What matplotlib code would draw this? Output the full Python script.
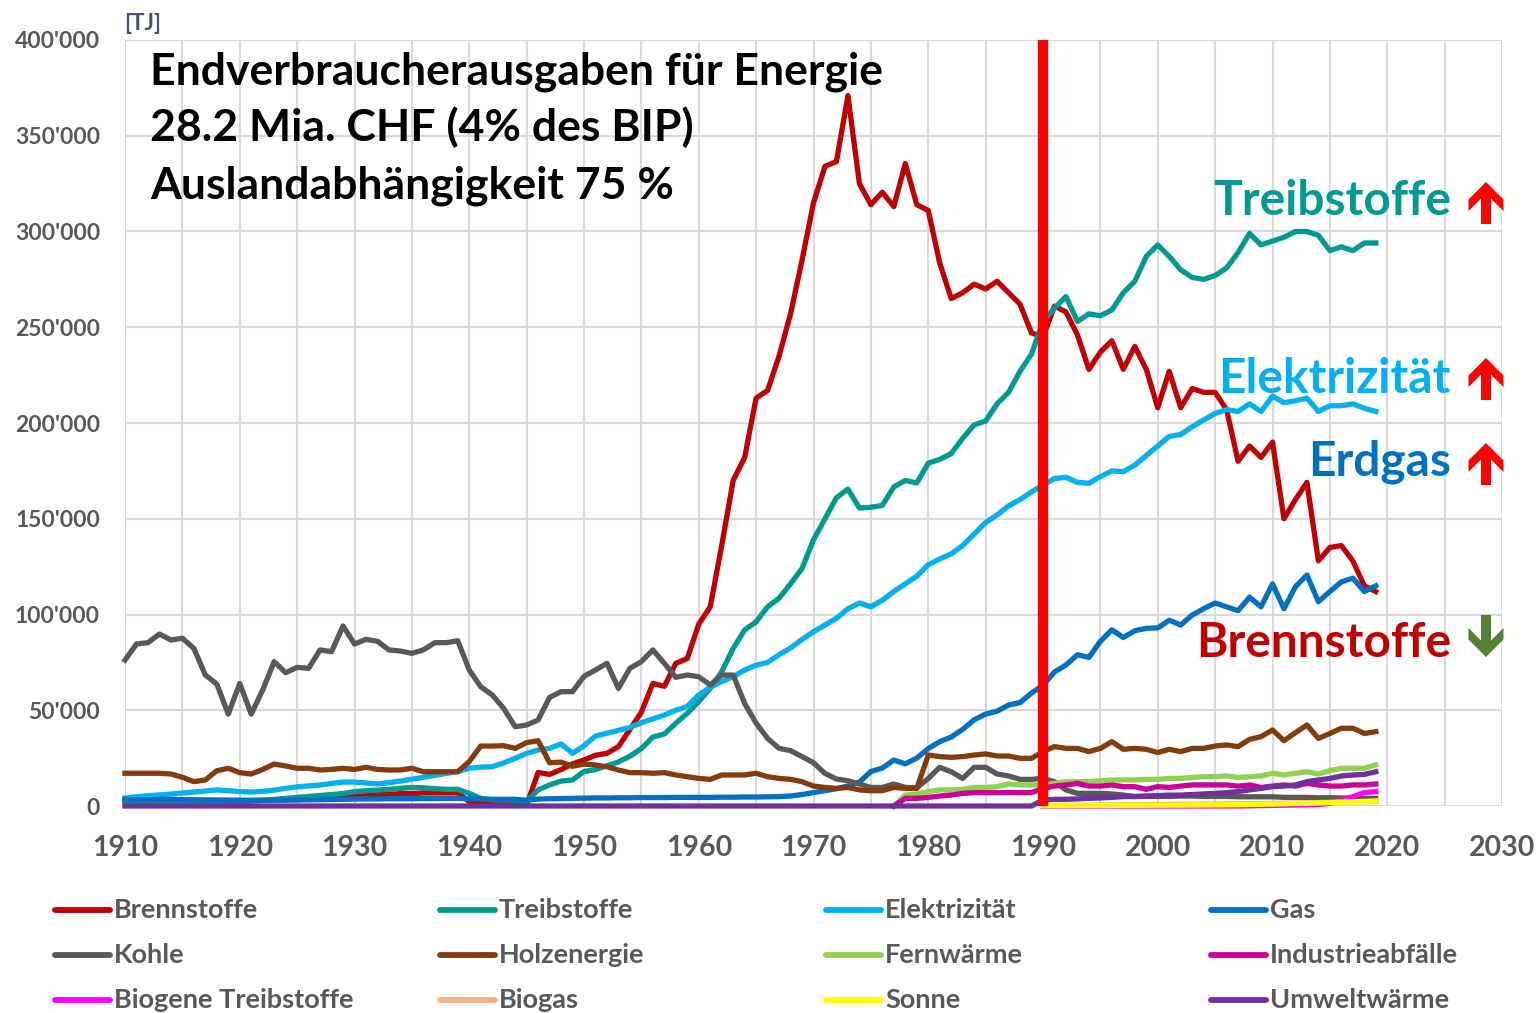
import numpy as np
import matplotlib
matplotlib.use("Agg")
import matplotlib.pyplot as plt
from matplotlib.lines import Line2D
from matplotlib.patches import Polygon
from matplotlib.ticker import FuncFormatter, MultipleLocator

plt.rcParams['font.family'] = ['Lato', 'DejaVu Sans']
plt.rcParams['font.weight'] = 'bold'

W, H = 1537, 1013

# ------------------------------- data [TJ] -------------------------------
years = np.arange(1910, 2020)

brennstoffe = [3000, 3000, 3000, 3000, 3000, 3000, 3000, 3000, 3000, 3000,
               3000, 3000, 3000, 3200, 3400, 3600, 3800, 4000, 4200, 4500,
               5000, 5500, 6000, 6000, 6500, 6500, 6800, 6800, 6800, 6800,
               2300, 2000, 2000, 2000, 1500, 500, 17500, 16500, 19000, 22000,
               24000, 26500, 27500, 31000, 40000, 49000, 64000, 62500, 74500, 77000,
               95000, 104000, 136000, 170000, 182000, 213000, 217000, 235000, 257000, 285000,
               315000, 334000, 336500, 371000, 325000, 314000, 320500, 313000, 335500, 314000,
               311000, 283500, 265000, 268000, 272500, 270000, 274000, 268000, 262000, 247000,
               245000, 261000, 258000, 246000, 228000, 237000, 243000, 228000, 240000, 228000,
               208000, 227000, 208000, 218000, 216000, 216000, 207000, 180000, 188000, 182000,
               190000, 150000, 160000, 169000, 128000, 135000, 136000, 128000, 115000, 112000]

treibstoffe = [1500, 1500, 1500, 1500, 1500, 1500, 1500, 1500, 1500, 1500,
               2000, 2500, 3000, 3500, 4000, 4500, 5000, 5500, 6000, 6500,
               7500, 8000, 8300, 8700, 9200, 9700, 9500, 9000, 8700, 8700,
               6600, 4000, 3200, 3100, 3000, 2500, 8400, 11000, 13000, 13600,
               18000, 19000, 21000, 23000, 26000, 30000, 36000, 37600, 43200, 48400,
               54500, 61500, 70100, 82300, 91900, 96200, 104000, 108500, 116000, 124000,
               139000, 150000, 161000, 165500, 155600, 156000, 157000, 166600, 170000, 168700,
               179000, 181000, 184000, 192000, 199000, 201000, 210000, 216000, 227000, 236000,
               253000, 260000, 266000, 253000, 257000, 256000, 259000, 268000, 274000, 287000,
               293000, 287000, 280000, 276000, 275000, 277000, 281000, 289000, 299000, 293000,
               295000, 297000, 300000, 300000, 298000, 290000, 292000, 290000, 294000, 294000]

elektrizitaet = [4200, 4800, 5400, 5800, 6200, 6800, 7300, 7800, 8400, 8000,
                 7500, 7300, 7600, 8300, 9200, 10000, 10500, 11000, 11800, 12500,
                 12500, 12000, 11500, 12200, 13000, 14000, 15000, 16000, 17000, 18000,
                 19700, 20300, 20500, 22500, 24900, 27500, 29200, 30100, 32400, 27500,
                 31500, 36500, 38000, 39500, 41000, 43500, 45500, 47500, 50000, 52000,
                 58000, 62000, 65000, 67500, 71000, 73500, 75000, 79000, 82500, 87000,
                 91000, 94500, 98000, 103000, 106000, 104000, 107500, 112000, 116000, 120000,
                 126000, 129000, 131600, 136000, 142000, 148000, 152000, 156700, 160000, 164000,
                 167600, 171000, 171600, 169000, 168500, 172000, 175000, 174600, 178000, 183000,
                 188000, 193000, 194000, 198000, 201600, 205000, 207000, 206000, 210000, 206000,
                 214000, 210600, 211600, 213000, 206000, 209000, 209000, 210000, 207700, 206000]

gas = [3200, 3300, 3300, 3400, 3400, 3300, 3200, 3100, 3000, 2900,
       2800, 2800, 2900, 3000, 3000, 3100, 3200, 3300, 3400, 3500,
       3600, 3700, 3700, 3800, 3800, 3800, 3900, 3900, 4000, 4000,
       3800, 3600, 3500, 3500, 3500, 3000, 3600, 3800, 3900, 4000,
       4100, 4200, 4200, 4300, 4300, 4400, 4400, 4400, 4500, 4500,
       4500, 4500, 4600, 4600, 4700, 4700, 4800, 4900, 5200, 6000,
       7000, 8000, 9000, 10500, 12500, 18000, 19800, 24000, 22000, 25000,
       30000, 33600, 36000, 40000, 45000, 48000, 49500, 52700, 54000, 59000,
       63000, 70000, 73600, 79000, 77600, 86000, 92000, 88000, 91500, 92800,
       93000, 97000, 94500, 99700, 103000, 106000, 104000, 102000, 109000, 104000,
       116000, 103000, 114500, 120600, 106700, 112000, 117000, 119000, 112000, 115000]

kohle = [76200, 84600, 85300, 89800, 86700, 87600, 82300, 68400, 63700, 48000,
         64000, 48000, 60600, 75400, 69600, 72400, 71900, 81500, 80600, 94000,
         84600, 87000, 86000, 81500, 80900, 79700, 81500, 85300, 85300, 86300,
         71000, 62300, 58000, 51000, 41400, 42300, 44900, 56700, 59700, 59700,
         67700, 71000, 74500, 61400, 71900, 75400, 81500, 74500, 67200, 68400,
         67500, 63200, 68400, 68400, 53600, 43200, 35300, 30100, 28900, 25800,
         22600, 17000, 14100, 13200, 11500, 9700, 9700, 11500, 9700, 9500,
         14400, 20200, 17900, 14400, 20200, 20200, 16700, 15700, 13900, 13900,
         14400, 12700, 8400, 6600, 6600, 6600, 6300, 5700, 5000, 5000,
         5000, 5000, 5200, 5200, 5000, 5000, 5000, 4800, 4800, 4800,
         4800, 4500, 4500, 4500, 4300, 4300, 4200, 4200, 4000, 4000]

holzenergie = [17100, 17100, 17100, 17100, 16700, 15000, 12700, 13600, 18400, 19700,
               17400, 16700, 19100, 21900, 20900, 19700, 19700, 18800, 19100, 19700,
               19100, 20200, 19100, 18800, 18800, 19700, 17900, 17900, 17900, 17900,
               23200, 31300, 31300, 31500, 30100, 33100, 34100, 22600, 22900, 20700,
               21900, 21400, 20500, 18800, 17400, 17400, 17100, 17400, 16200, 15300,
               14400, 13900, 16200, 16200, 16200, 17100, 15300, 14400, 13900, 12700,
               10400, 9700, 9200, 9700, 8400, 8000, 8000, 9700, 9200, 9200,
               26600, 25800, 25400, 25800, 26600, 27200, 26100, 26100, 24900, 24900,
               28400, 31000, 30100, 30100, 28400, 30100, 33600, 29600, 30100, 29600,
               27900, 29600, 28400, 30100, 30100, 31300, 31900, 31000, 34800, 36200,
               39700, 34100, 38300, 42300, 35300, 37900, 40600, 40600, 37900, 38800]

fernwaerme_start = 1977
fernwaerme = [0, 5700, 6300, 7500, 8400, 8400, 8700, 9700, 9700, 10100,
              11500, 11000, 11000, 11000, 11800, 12700, 12700, 12700, 13200, 13600,
              13600, 13600, 13900, 13900, 14400, 14400, 14900, 15300, 15300, 15700,
              14900, 15300, 15700, 17100, 16200, 17100, 17900, 16700, 18400, 19700,
              19700, 19700, 21400]

industrie_start = 1977
industrieabfaelle = [0, 4000, 4000, 4500, 5200, 5700, 6600, 7000, 7000, 7000,
                     7000, 7000, 7000, 9200, 10400, 11000, 11800, 10400, 10400, 11000,
                     10100, 10100, 8700, 10100, 9700, 10400, 11000, 11000, 11000, 11000,
                     10400, 11000, 9700, 10400, 11000, 10400, 11800, 11000, 10400, 10400,
                     11000, 11000, 11500]

biogen_start = 1990
biogene_treibstoffe = [0, 0, 0, 0, 0, 0, 0, 0, 0, 0,
                       0, 0, 0, 0, 0, 0, 0, 0, 100, 200,
                       300, 400, 500, 600, 800, 1400, 3100, 4900, 7000, 7500]

biogas_start = 1990
biogas = [300, 350, 400, 450, 500, 550, 600, 650, 700, 750,
          800, 850, 900, 950, 1000, 1050, 1100, 1150, 1200, 1300,
          1400, 1500, 1600, 1700, 1800, 1900, 2000, 2100, 2200, 2300]

sonne_start = 1990
sonne = [200, 210, 220, 240, 260, 300, 320, 340, 360, 380,
         400, 430, 460, 500, 550, 600, 650, 700, 800, 900,
         1000, 1150, 1300, 1450, 1600, 1800, 2000, 2200, 2400, 2600]

umweltwaerme = [0] * 80 + [3100, 3500, 3500, 3700, 4000, 4200, 4500, 4900, 4900, 5200,
                           5400, 5700, 5700, 6000, 6300, 6600, 7000, 7500, 8400, 9200,
                           10100, 10400, 11000, 12700, 13600, 14400, 15700, 16200, 16500, 17900]

series = [
    ("Brennstoffe", 1910, brennstoffe, "#C00000"),
    ("Treibstoffe", 1910, treibstoffe, "#009A93"),
    ("Elektrizität", 1910, elektrizitaet, "#00B0F0"),
    ("Gas", 1910, gas, "#0070C0"),
    ("Kohle", 1910, kohle, "#595959"),
    ("Holzenergie", 1910, holzenergie, "#843C0C"),
    ("Fernwärme", fernwaerme_start, fernwaerme, "#92D050"),
    ("Industrieabfälle", industrie_start, industrieabfaelle, "#CC0099"),
    ("Biogene Treibstoffe", biogen_start, biogene_treibstoffe, "#FF00FF"),
    ("Biogas", biogas_start, biogas, "#F4B183"),
    ("Sonne", sonne_start, sonne, "#FFFF00"),
    ("Umweltwärme", 1910, umweltwaerme, "#7030A0"),
]

# ------------------------------- figure -------------------------------
fig = plt.figure(figsize=(W / 100, H / 100), dpi=100)
ax = fig.add_axes([125 / W, 1 - 806 / H, 1377 / W, 766 / H])

for name, start, vals, col in series:
    x = np.arange(start, start + len(vals))
    ax.plot(x, vals, color=col, lw=3.8, solid_joinstyle='round', clip_on=False, zorder=3)

# 1990 marker
ax.axvline(1990, color="#FF0000", lw=7.5, zorder=5)

ax.set_xlim(1910, 2030)
ax.set_ylim(0, 400000)
ax.xaxis.set_major_locator(MultipleLocator(10))
ax.xaxis.set_minor_locator(MultipleLocator(5))
ax.yaxis.set_major_locator(MultipleLocator(50000))
ax.yaxis.set_major_formatter(FuncFormatter(lambda v, p: f"{int(v):,}".replace(",", "'")))
ax.grid(which='both', color='#D9D9D9', lw=1.5, zorder=0)
ax.set_axisbelow(True)
for s in ax.spines.values():
    s.set_visible(False)
ax.tick_params(which='both', length=0, colors='#595959')
ax.tick_params(axis='y', pad=18, labelsize=16.5)
ax.tick_params(axis='x', pad=21, labelsize=20.5)
for lab in ax.get_xticklabels() + ax.get_yticklabels():
    lab.set_fontweight('bold')

# unit
fig.text(124 / W, 1 - 30 / H, "[TJ]", fontsize=16, color="#44546A", fontweight='bold', va='baseline')

# title block
title_lines = ["Endverbraucherausgaben für Energie",
               "28.2 Mia. CHF (4% des BIP)",
               "Auslandabhängigkeit 75 %"]
for i, t in enumerate(title_lines):
    fig.text(150 / W, 1 - (84 + 57.5 * i) / H, t, fontsize=32, color='black',
             fontweight='bold', va='baseline')

# right hand labels
labels = [("Treibstoffe", 215, "#009A93"),
          ("Elektrizität", 393, "#00B0F0"),
          ("Erdgas", 475, "#0070C0"),
          ("Brennstoffe", 657, "#C00000")]
for t, yb, col in labels:
    fig.text(1451 / W, 1 - yb / H, t, fontsize=34.5, color=col, fontweight='bold',
             ha='right', va='baseline')


def arrow(cx, top, col, down=False):
    pts = [(0, 0), (17.5, 17.5), (17.5, 29), (5, 16.5), (5, 42),
           (-5, 42), (-5, 16.5), (-17.5, 29), (-17.5, 17.5)]
    if down:
        pts = [(px, 42 - py) for px, py in pts]
    xy = [((cx + px) / W, 1 - (top + py) / H) for px, py in pts]
    fig.add_artist(Polygon(xy, closed=True, facecolor=col, edgecolor='none',
                           transform=fig.transFigure))


arrow(1486, 182, "#FF0000")
arrow(1486, 358, "#FF0000")
arrow(1486, 443, "#FF0000")
arrow(1486, 615, "#548235", down=True)

# ------------------------------- legend -------------------------------
col_x = [55, 440, 826, 1211]
row_y = [910, 955, 1000]
for k, (name, start, vals, col) in enumerate(series):
    r, c = divmod(k, 4)
    x0 = col_x[c]
    y0 = 1 - row_y[r] / H
    fig.add_artist(Line2D([x0 / W, (x0 + 55) / W], [y0, y0], color=col, lw=4.2,
                          solid_capstyle='round', transform=fig.transFigure))
    fig.text((x0 + 59) / W, y0, name, fontsize=19.5, color='#595959', fontweight='bold',
             va='center')

fig.savefig("out.png", dpi=100)
